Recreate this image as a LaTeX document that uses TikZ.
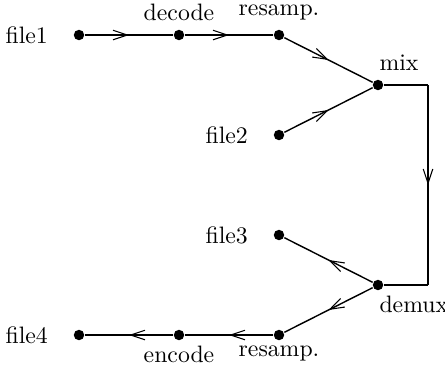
\documentclass[tikz,border=0pt]{standalone}
\usetikzlibrary{decorations.markings,arrows.meta}

\tikzset{
  dot/.style={circle, fill, inner sep=0pt, minimum size=4.4pt, label distance=0pt},
  flow/.style={postaction={decorate},
    decoration={markings, mark=at position 0.5 with
      {\arrow{Straight Barb[length=6pt,width=4pt,line width=0.45pt]}}}},
  farleft/.style={label distance=7pt},
  under/.style={label distance=-1.5pt}
}

\begin{document}
\begin{tikzpicture}[x=1.48cm, y=1.48cm, semithick]
    \useasboundingbox (0,0) rectangle (4.45,3.67);

    % Input side
    \node[dot, label={[farleft]left:file1}] (file1) at (0.79,3.32) {};
    \node[dot, label=above:decode] (decode) at (1.79,3.32) {};
    \node[dot, label=above:resamp.] (resampA) at (2.79,3.32) {};
    \node[dot, label={[farleft]left:file2}] (file2) at (2.79,2.32) {};
    \node[dot, label={[anchor=south west, xshift=-3pt]above:mix}] (mix) at (3.78,2.82) {};

    % Output side
    \node[dot, label={[under, anchor=north west, xshift=-3pt]below:demux}] (demux) at (3.78,0.82) {};
    \node[dot, label={[farleft]left:file3}] (file3) at (2.79,1.32) {};
    \node[dot, label={[under]below:resamp.}] (resampB) at (2.79,0.32) {};
    \node[dot, label={[under]below:encode}] (encode) at (1.79,0.32) {};
    \node[dot, label={[farleft]left:file4}] (file4) at (0.79,0.32) {};

    % Corners of the loop
    \coordinate (c1) at (4.28,2.82);
    \coordinate (c2) at (4.28,0.82);

    % Connectors
    \draw[flow] (file1) -- (decode);
    \draw[flow] (decode) -- (resampA);
    \draw[flow] (resampA) -- (mix);
    \draw[flow] (file2) -- (mix);
    \draw (mix) -- (c1);
    \draw[flow] (c1) -- (c2);
    \draw (c2) -- (demux);
    \draw[flow] (demux) -- (file3);
    \draw[flow] (demux) -- (resampB);
    \draw[flow] (resampB) -- (encode);
    \draw[flow] (encode) -- (file4);
\end{tikzpicture}
\end{document}
